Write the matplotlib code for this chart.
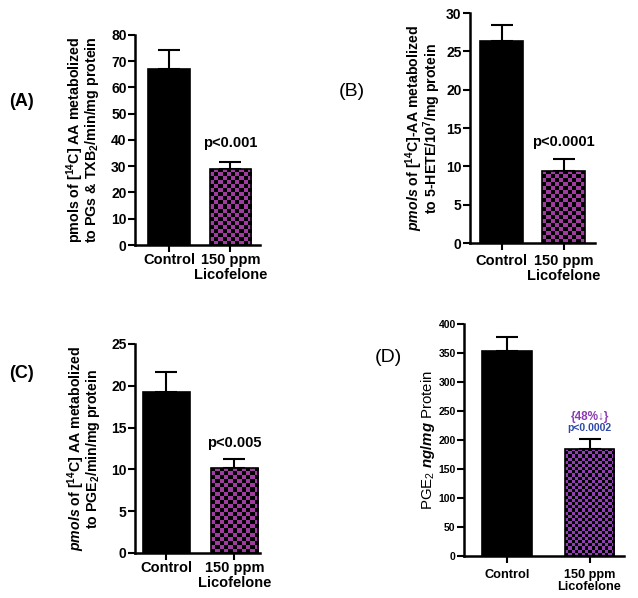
import numpy as np
import matplotlib
matplotlib.use('Agg')
import matplotlib.pyplot as plt

plt.rcParams['font.family'] = ['Liberation Sans', 'DejaVu Sans']
plt.rcParams['mathtext.fontset'] = 'custom'
plt.rcParams['mathtext.it'] = 'Liberation Sans:italic:bold'
plt.rcParams['mathtext.rm'] = 'Liberation Sans:bold'
plt.rcParams['mathtext.default'] = 'regular'

groups = ['Control', '150 ppm\nLicofelone']

vals_a = [67.0, 29.0]
err_a = [7.2, 2.7]
vals_b = [26.4, 9.4]
err_b = [2.1, 1.5]
vals_c = [19.2, 10.2]
err_c = [2.4, 1.1]
vals_d = [354, 185]
err_d = [24, 16]

purple = '#a03ca0'
purple_d = '#9040b0'


def checker_bar(ax, bar, color, cell_px):
    # fill a bar with a checkerboard of color/black, clipped to the bar
    x0, y0 = bar.get_x(), bar.get_y()
    x1, y1 = x0 + bar.get_width(), y0 + bar.get_height()
    p0 = ax.transData.transform((x0, y0))
    p1 = ax.transData.transform((x1, y1))
    nx = max(1, int(round(abs(p1[0] - p0[0]) / cell_px)))
    ny = max(1, int(round(abs(p1[1] - p0[1]) / cell_px)))
    ii, jj = np.indices((ny, nx))
    grid = (ii + jj) % 2
    rgb = np.array([matplotlib.colors.to_rgb('black'), matplotlib.colors.to_rgb(color)])
    img = rgb[grid]
    im = ax.imshow(img, extent=(x0, x1, y0, y1), origin='lower',
                   interpolation='nearest', aspect='auto', zorder=2)
    im.set_clip_path(bar)


def panel(rect, vals, errs, ylim, yticks, xlim, width, color, cell_px,
          ylabel, label_x, tick_fs, cat_fs, cat_pad, ylab_fs, ylab_weight='bold',
          tick_weight='bold'):
    ax = fig.add_axes(rect)
    ax.set_xlim(*xlim)
    ax.set_ylim(*ylim)
    x = np.arange(len(vals))
    bars = ax.bar(x, vals, width, color=['black', 'none'], edgecolor='black',
                  linewidth=1.2, zorder=3)
    bars[1].set_facecolor('none')
    ax.errorbar(x, vals, yerr=[[0, 0], errs], fmt='none', ecolor='black',
                elinewidth=1.5, capsize=8, capthick=1.5, zorder=1)
    checker_bar(ax, bars[1], color, cell_px)
    ax.set_yticks(yticks)
    ax.set_yticklabels([str(t) for t in yticks], fontsize=tick_fs, fontweight=tick_weight)
    ax.set_xticks(x)
    ax.set_xticklabels(groups, fontsize=cat_fs, fontweight='bold', linespacing=1.1)
    ax.tick_params(axis='x', length=5, width=1.5, pad=cat_pad)
    ax.tick_params(axis='y', length=5, width=1.5, pad=1)
    for s in ['top', 'right']:
        ax.spines[s].set_visible(False)
    for s in ['left', 'bottom']:
        ax.spines[s].set_linewidth(1.8)
    ax.set_ylabel(ylabel, fontsize=ylab_fs, fontweight=ylab_weight, linespacing=0.8)
    ax.yaxis.set_label_coords(label_x, 0.5)
    return ax


fig = plt.figure(figsize=(6.38, 5.98), dpi=100)

ax_a = panel([0.2116, 0.5903, 0.196, 0.3512], vals_a, err_a, (0, 80), range(0, 81, 10),
             (-0.55, 1.48), 0.68, purple, 4.1,
             'pmols of [$^{14}$C] AA metabolized\nto PGs & TXB$_2$/min/mg protein',
             -0.27, 10, 10.5, 1, 10.3)
ax_a.text(1, 38.9, 'p<0.001', ha='center', va='center', fontsize=10.5, fontweight='bold')

ax_b = panel([0.7367, 0.5936, 0.1959, 0.3846], vals_b, err_b, (0, 30), range(0, 31, 5),
             (-0.508, 1.508), 0.69, purple, 4.1,
             '$\\mathit{pmols}$ of [$^{14}$C]-AA metabolized\nto 5-HETE/10$^7$/mg protein',
             -0.216, 10, 10.5, 3, 10.2)
ax_b.text(1, 13.2, 'p<0.0001', ha='center', va='center', fontsize=10.5, fontweight='bold')

ax_c = panel([0.2116, 0.0753, 0.196, 0.3495], vals_c, err_c, (0, 25), range(0, 26, 5),
             (-0.46, 1.375), 0.69, purple, 4.1,
             '$\\mathit{pmols}$ of [$^{14}$C] AA metabolized\nto PGE$_2$/min/mg protein',
             -0.26, 10, 10.5, 1, 10.2)
ax_c.text(1, 13.2, 'p<0.005', ha='center', va='center', fontsize=10.5, fontweight='bold')

ax_d = panel([0.7273, 0.0702, 0.2508, 0.388], vals_d, err_d, (0, 400), range(0, 401, 50),
             (-0.52, 1.418), 0.6, purple_d, 3.2,
             'PGE$_2$ $\\mathit{ng/mg}$ Protein',
             -0.17, 7.5, 9.2, 4, 10.8, ylab_weight='normal')
ax_d.text(1, 240, '{48%↓}', ha='center', va='center', fontsize=8.5, fontweight='bold',
          color='#8a3cb4', family=['Liberation Sans', 'DejaVu Sans'])
ax_d.text(1, 221, 'p<0.0002', ha='center', va='center', fontsize=7.5, fontweight='bold',
          color='#3048a8')

fig.text(21 / 638, 1 - 101 / 598, '(A)', ha='center', va='center', fontsize=13, fontweight='bold')
fig.text(352 / 638, 1 - 91 / 598, '(B)', ha='center', va='center', fontsize=14)
fig.text(21 / 638, 1 - 373 / 598, '(C)', ha='center', va='center', fontsize=13, fontweight='bold')
fig.text(388 / 638, 1 - 358 / 598, '(D)', ha='center', va='center', fontsize=14)

fig.savefig('out.png', dpi=100)
